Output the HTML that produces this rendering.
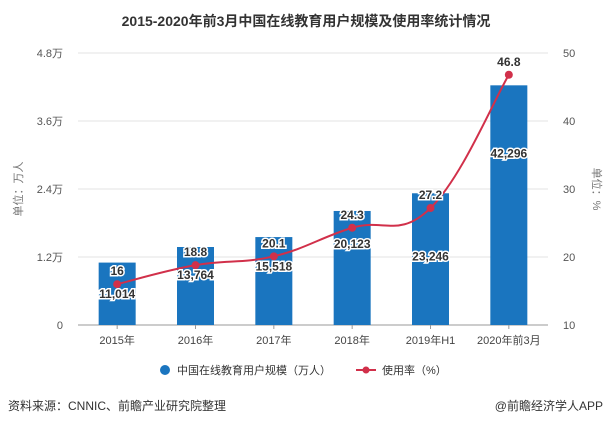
<!DOCTYPE html>
<html><head><meta charset="utf-8"><style>
body{margin:0;background:#fff;font-family:"Liberation Sans","Noto Sans CJK SC",sans-serif;}
#wrap{position:relative;width:611px;height:425px;overflow:hidden;}
</style></head><body>
<div id="wrap">
<svg id="chart" width="611" height="425" xmlns="http://www.w3.org/2000/svg">
<text x="306" y="26" text-anchor="middle" font-size="14" font-weight="bold" fill="#333" font-family="Liberation Sans,Noto Sans CJK SC,sans-serif">2015-2020年前3月中国在线教育用户规模及使用率统计情况</text>
<g id="grid"></g><g id="bars"></g><g id="line"></g><g id="labels"></g>
<text transform="translate(22,189) rotate(-90)" text-anchor="middle" font-size="11" fill="#777" font-family="Liberation Sans,Noto Sans CJK SC,sans-serif">单位：万人</text>
<text transform="translate(593,189) rotate(90)" text-anchor="middle" font-size="11" fill="#777" font-family="Liberation Sans,Noto Sans CJK SC,sans-serif">单位：%</text>
<g font-family="Liberation Sans,Noto Sans CJK SC,sans-serif" font-size="11" fill="#333">
<g><circle cx="165" cy="370" r="5" fill="#1a75bf"/><text x="177" y="374">中国在线教育用户规模（万人）</text></g>
<g><line x1="356" y1="370" x2="376" y2="370" stroke="#d1304a" stroke-width="2"/><circle cx="366" cy="370" r="3.5" fill="#d1304a"/><text x="382" y="374">使用率（%）</text></g>
</g>
<text x="8" y="410" font-size="12" fill="#333" font-family="Liberation Sans,Noto Sans CJK SC,sans-serif">资料来源：CNNIC、前瞻产业研究院整理</text>
<text x="603" y="410" text-anchor="end" font-size="12" fill="#333" font-family="Liberation Sans,Noto Sans CJK SC,sans-serif">@前瞻经济学人APP</text>
</svg>
</div>
<script>
const categories=["2015年","2016年","2017年","2018年","2019年H1","2020年前3月"];
const users=[11014,13764,15518,20123,23246,42296];
const rates=[16,18.8,20.1,24.3,27.2,46.8];
const leftTicks=[0,12000,24000,36000,48000];
const leftTickLabels=["0","1.2万","2.4万","3.6万","4.8万"];
const rightTicks=[10,20,30,40,50];
const NS="http://www.w3.org/2000/svg";
const X0=78,X1=548,YT=53,YB=325;
const band=(X1-X0)/categories.length;
const xc=i=>X0+band*(i+0.5);
const yL=v=>YB-(v/48000)*(YB-YT);
const yR=v=>YB-((v-10)/40)*(YB-YT);
function mk(t,a,p){const e=document.createElementNS(NS,t);for(const k in a)e.setAttribute(k,a[k]);p.appendChild(e);return e;}
const F="Liberation Sans,Noto Sans CJK SC,sans-serif";
const grid=document.getElementById('grid');
leftTicks.forEach((v,i)=>{
 const l=mk('line',{x1:X0,x2:X1,y1:yL(v),y2:yL(v),stroke:i==0?'#999':'#e3e3e3','stroke-width':1},grid);
 
 
 const t=mk('text',{x:63,y:yL(v)+4,'text-anchor':'end','font-size':11,fill:'#555','font-family':F},grid);t.textContent=leftTickLabels[i];
 
 
});
rightTicks.forEach(v=>{
 const t=mk('text',{x:563,y:yR(v)+4,'font-size':11,fill:'#555','font-family':F},grid);t.textContent=v;
 
 
});
const bars=document.getElementById('bars'),labels=document.getElementById('labels');
categories.forEach((c,i)=>{
 const r=mk('rect',{x:xc(i)-18.5,y:yL(users[i]),width:37,height:YB-yL(users[i]),fill:'#1a75bf'},bars);
 
 
 mk('line',{x1:xc(i),x2:xc(i),y1:YB,y2:YB+4,stroke:'#999'},grid);
 const t=mk('text',{x:xc(i),y:YB+19,'text-anchor':'middle','font-size':11,fill:'#444','font-family':F},grid);t.textContent=c;
 
 
});
const pts=rates.map((v,i)=>[xc(i),yR(v)]);
let d='M'+pts[0][0]+','+pts[0][1];
for(let i=0;i<pts.length-1;i++){
 const p0=pts[i-1]||pts[i],p1=pts[i],p2=pts[i+1],p3=pts[i+2]||p2,k=0.2;
 d+=` C${p1[0]+(p2[0]-p0[0])*k},${p1[1]+(p2[1]-p0[1])*k} ${p2[0]-(p3[0]-p1[0])*k},${p2[1]-(p3[1]-p1[1])*k} ${p2[0]},${p2[1]}`;
}
const lineG=document.getElementById('line');
const path=mk('path',{d:d,fill:'none',stroke:'#d1304a','stroke-width':2},lineG);


pts.forEach((p,i)=>{
 const c=mk('circle',{cx:p[0],cy:p[1],r:4,fill:'#d1304a'},lineG);
 
 
});
function lab(x,y,s,name){
 const t=mk('text',{x:x,y:y,'text-anchor':'middle','font-size':12,'font-weight':'bold',fill:'#333',stroke:'#fff','stroke-width':3,'paint-order':'stroke','font-family':F},labels);
 t.textContent=s;
 
 
}
users.forEach((v,i)=>{
 let y=(i==5)?yL(v)+72:Math.max(yR(rates[i])+14,yL(v)+ (i<3?0:0));
 if(i<3) y=yR(rates[i])+14; else if(i==3) y=yL(v)+37; else if(i==4) y=yL(v)+67;
 lab(xc(i),y,v.toLocaleString('en-US'),'user-value-label');
});
rates.forEach((v,i)=>lab(xc(i),yR(v)-9,String(v),'rate-value-label'));
</script>
</body></html>
